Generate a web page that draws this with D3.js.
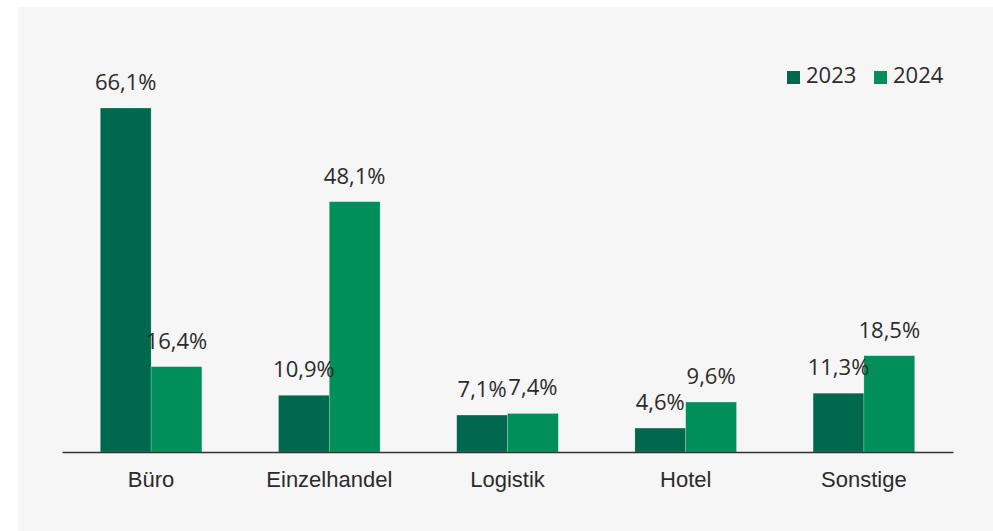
<!DOCTYPE html>
<html lang="de">
<head>
<meta charset="UTF-8">
<title>Anteile nach Nutzungsart</title>
<style>
  body { margin: 0; background: #fff; }
  svg { display: block; font-family: "Open Sans", "Noto Sans", sans-serif; }
  .val { font-size: 22px; fill: #2b2b2b; text-anchor: middle; }
  .cat { font-size: 22px; fill: #2b2b2b; text-anchor: middle; }
  .leg { font-size: 22px; fill: #2b2b2b; }
</style>
</head>
<body>
<div id="chart"></div>
<script src="https://d3js.org/d3.v7.min.js"></script>
<script>
  // data
  var categories = ["Büro", "Einzelhandel", "Logistik", "Hotel", "Sonstige"];
  var years = ["2023", "2024"];
  var values2023 = [66.1, 10.9, 7.1, 4.6, 11.3];
  var values2024 = [16.4, 48.1, 7.4, 9.6, 18.5];
  var colors = ["#00684c", "#008f5a"];

  var W = 993, H = 531;
  var svg = d3.select("#chart").append("svg")
    .attr("width", W).attr("height", H);

  // gray panel
  svg.append("rect")
    .attr("x", 18).attr("y", 7)
    .attr("width", W - 18).attr("height", H - 7)
    .attr("fill", "#f6f6f6");

  var x0 = d3.scaleBand().domain(categories).range([62, 953]).paddingInner(0.43).paddingOuter(0.215);
  var x1 = d3.scaleBand().domain(years).range([0, x0.bandwidth()]);
  var y = d3.scaleLinear().domain([0, 80]).range([452, 452 - 80 * 5.204]);

  var rows = categories.map(function(c, i) {
    return { cat: c, vals: [values2023[i], values2024[i]] };
  });

  var g = svg.selectAll(".grp").data(rows).enter().append("g")
    .attr("transform", function(d) { return "translate(" + x0(d.cat) + ",0)"; });

  g.selectAll("rect").data(function(d) {
      return d.vals.map(function(v, j) { return { year: years[j], v: v, j: j }; });
    })
    .enter().append("rect")
    .attr("x", function(d) { return x1(d.year); })
    .attr("y", function(d) { return y(d.v); })
    .attr("width", x1.bandwidth())
    .attr("height", function(d) { return y(0) - y(d.v); })
    .attr("fill", function(d) { return colors[d.j]; })
    .attr("stroke", "#ffffff").attr("stroke-opacity", 0.35).attr("stroke-width", 0.6);

  g.selectAll(".val").data(function(d) {
      return d.vals.map(function(v, j) { return { year: years[j], v: v }; });
    })
    .enter().append("text")
    .attr("class", "val")
    .attr("x", function(d) { return x1(d.year) + x1.bandwidth() / 2; })
    .attr("y", function(d) { return y(d.v) - 18; })
    .text(function(d) { return d3.format(".1f")(d.v).replace(".", ",") + "%"; });

  // axis
  var axis = svg.append("g").attr("transform", "translate(0,452)")
    .call(d3.axisBottom(x0).tickSize(0).tickPadding(19));
  axis.select(".domain").attr("stroke", "#333").attr("stroke-width", 1.5);
  axis.selectAll("text").attr("class", "cat").attr("font-size", null).attr("font-family", null).attr("fill", null);

  // legend
  var leg = svg.append("g").attr("transform", "translate(787,71)");
  var items = leg.selectAll("g").data(years).enter().append("g")
    .attr("transform", function(d, i) { return "translate(" + (i * 87) + ",0)"; });
  items.append("rect").attr("width", 13).attr("height", 13)
    .attr("fill", function(d, i) { return colors[i]; });
  items.append("text").attr("class", "leg").attr("x", 19).attr("y", 12).text(function(d) { return d; });
</script>
</body>
</html>
